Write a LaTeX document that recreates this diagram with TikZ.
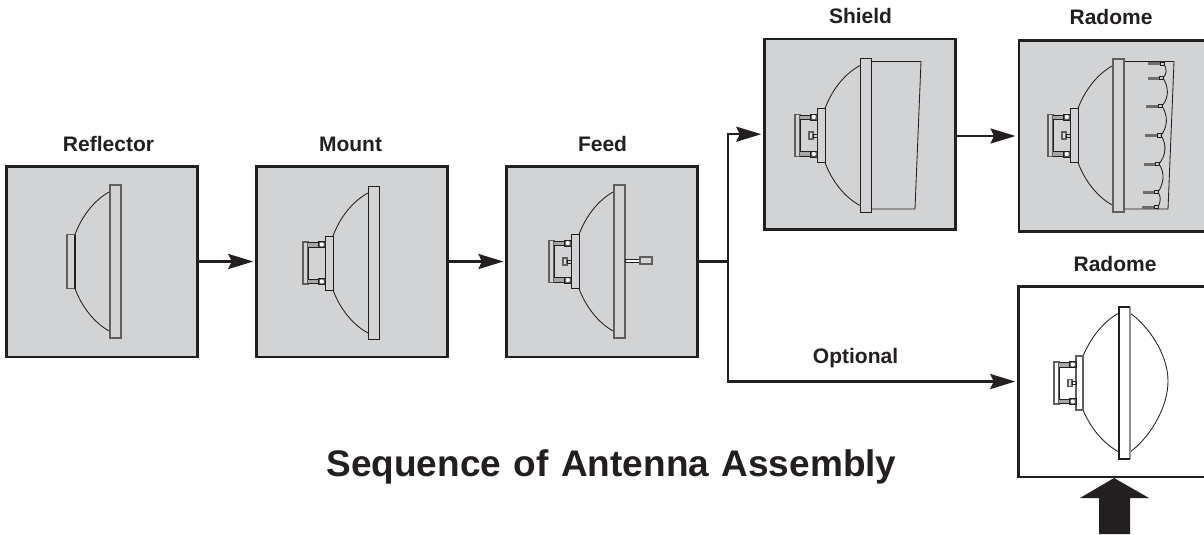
\documentclass[tikz,border=0pt]{standalone}
\usepackage{fontspec}
\setmainfont{Liberation Sans}
\usetikzlibrary{arrows.meta,calc}
\definecolor{ink}{HTML}{231F20}
\definecolor{panel}{HTML}{D1D3D4}
\tikzset{
  panelbox/.style={draw=ink,line width=2.5pt,fill=panel,minimum width=191pt,minimum height=190.5pt,inner sep=0pt,outer sep=1.25pt},
  whitebox/.style={panelbox,fill=white},
  conn/.style={draw=ink,line width=2.3pt,-{Stealth[length=25pt,width=15pt,inset=3.5pt]},shorten >=2pt},
  plain/.style={draw=ink,line width=2.3pt},
  caption/.style={font=\fontsize{21}{23}\bfseries,text=ink,inner sep=0pt,anchor=base},
  thin part/.style={draw=ink,line width=0.85pt},
  part/.style={draw=ink,line width=1pt},
  greypart/.style={draw=ink!72,line width=1.2pt}
}
% dish back, origin at flange left edge, centre line
\newcommand{\dishback}{%
  \draw[thin part] (0,-70) .. controls (-15,-62) and (-28,-46) .. (-35,-27);
  \draw[thin part] (0,70) .. controls (-15,62) and (-28,46) .. (-35,27);
}
\newcommand{\bracket}{%
  \draw[greypart] (-65,-21) rectangle (-60,21);
  \draw[part] (-60,-21) -- (-60,21);
  \foreach \s in {-1,1}{
    \fill[ink!40] (-60,\s*20.5) rectangle (-49,\s*16.5);
    \draw[ink,line width=0.9pt] (-60,\s*20.5) -- (-49,\s*20.5);
    \draw[ink,line width=0.9pt] (-60,\s*16) -- (-49,\s*16);
    \draw[part,fill=ink!75] (-49.5,\s*21.5) rectangle (-43,\s*15.5);
    \draw[draw=none,fill=white] (-46.2,\s*18.5) circle (2.1);
  }
}
\newcommand{\feedstub}{%
  \draw[greypart,fill=panel!70] (-51,-3.5) rectangle (-47,3.5);
  \draw[part] (-47,-1.5) rectangle (-43,1.5);
}
\begin{document}
\begin{tikzpicture}[x=1pt,y=-1pt]
\useasboundingbox (0,0) rectangle (1204,535);
\clip (0,0) rectangle (1204,535);

\node[panelbox] (reflector) at (102,261.5) {};
\node[panelbox] (mount) at (352,261.5) {};
\node[panelbox] (feed) at (602.2,261.5) {};
\node[panelbox] (shield) at (860,134.2) {};
\node[panelbox] (radomeA) at (1114.3,136) {};
\node[whitebox] (radomeB) at (1114,381.5) {};

\node[caption] (capreflector) at (108.5,151) {Reflector};
\node[caption] (capmount) at (350.5,151) {Mount};
\node[caption] (capfeed) at (602.5,151) {Feed};
\node[caption] (capshield) at (860.5,24) {Shield};
\node[caption] (capradomeA) at (1111,25) {Radome};
\node[caption] (capradomeB) at (1115,271) {Radome};
\node[caption] (capoptional) at (855.5,363) {Optional};
\node[font=\fontsize{37}{40}\bfseries,text=ink,inner sep=0pt,anchor=base] (title) at (611.5,476) {\spaceskip=12.5pt Sequence of Antenna Assembly};

\coordinate (split) at (728,261.5);
\draw[conn] (reflector) -- (mount);
\draw[conn] (mount) -- (feed);
\draw[plain] (feed.east) -- (split);
\draw[conn] (split) |- (shield.west);
\draw[conn] (split) |- (radomeB.west);
\draw[conn] (radomeA.west -| shield.east) -- (radomeA.west);

% Reflector
\begin{scope}[shift={(110,261.5)}]
  \dishback
  \draw[greypart] (0,-76.5) rectangle (11,76.5);
  \draw[greypart] (-43,-27) rectangle (-35,27);
  \draw[ink,line width=1.6pt] (-35,-27) -- (-35,27);
\end{scope}

% Mount
\begin{scope}[shift={(368,263)}]
  \dishback
  \draw[part] (0,-76.5) rectangle (11,76.5);
  \draw[part] (-43,-27) rectangle (-35,27);
  \bracket
\end{scope}

% Feed
\begin{scope}[shift={(614,261.5)}]
  \dishback
  \draw[greypart] (0,-76.5) rectangle (11,76.5);
  \draw[part] (-43,-27) rectangle (-35,27);
  \bracket
  \feedstub
  \draw[part,fill=white] (11,-2.5) rectangle (26,0.5);
  \draw[greypart] (26,-4.5) rectangle (38,2.5);
\end{scope}

% Shield
\begin{scope}[shift={(860,135.5)}]
  \dishback
  \draw[thin part] (11,-74) -- (61,-74) -- (55,73.5) -- (11,73.5);
  \draw[part] (0,-76.5) rectangle (11,76.5);
  \draw[part] (-43,-27) rectangle (-35,27);
  \bracket
  \feedstub
\end{scope}

% Radome with studs
\begin{scope}[shift={(1113,135.5)}]
  \dishback
  \draw[thin part] (11,-74) -- (61,-74) -- (55,73.5) -- (11,73.5);
  \foreach \ya/\xa/\xb in {-71.5/35/51,-57.5/35/50,-29.5/33/49,0/32/48,28.5/31/46,56.5/30/45,71.5/29/45}{
    \fill[ink!65] (\xa,\ya-1.5) rectangle (\xb-4,\ya+1.5);
    \draw[ink,line width=0.7pt] (\xb-4,\ya-1.7) rectangle (\xb,\ya+1.7);
  }
  \draw[thin part] (51,-71.5) .. controls (54,-66) and (54,-62) .. (50,-57.5)
     .. controls (56,-48) and (56,-38) .. (49,-29.5)
     .. controls (55,-20) and (55,-9) .. (48,0)
     .. controls (54,9) and (53,20) .. (46,28.5)
     .. controls (52,37) and (51,48) .. (45,56.5)
     .. controls (48,61) and (48,66) .. (45,71.5);
  \draw[greypart] (0,-76.5) rectangle (11,76.5);
  \draw[part] (-43,-27) rectangle (-35,27);
  \bracket
  \feedstub
\end{scope}

% Optional radome
\begin{scope}[shift={(1119,383)}]
  \draw[thin part] (0,-70) .. controls (-15,-62) and (-28,-46) .. (-36,-27);
  \draw[thin part] (0,69) .. controls (-15,61) and (-28,46) .. (-36,27);
  \draw[thin part] (11,-70) .. controls (28,-58) and (49,-30) .. (49,-2) .. controls (49,27) and (28,57) .. (11,69);
  \draw[greypart,fill=white] (-43,-27) rectangle (-36,27);
  \bracket
  \feedstub
  \draw[draw=ink!50,line width=1.4pt] (11,-76) -- (11,76);
  \draw[ink,line width=1.2pt] (11,-76) -- (0,-76) -- (0,76) -- (11,76);
\end{scope}

% Large arrow
\fill[ink] (1114,478) -- (1149,498) -- (1130,498) -- (1130,534) -- (1099,534) -- (1099,498) -- (1080,498) -- cycle;
\end{tikzpicture}
\end{document}
